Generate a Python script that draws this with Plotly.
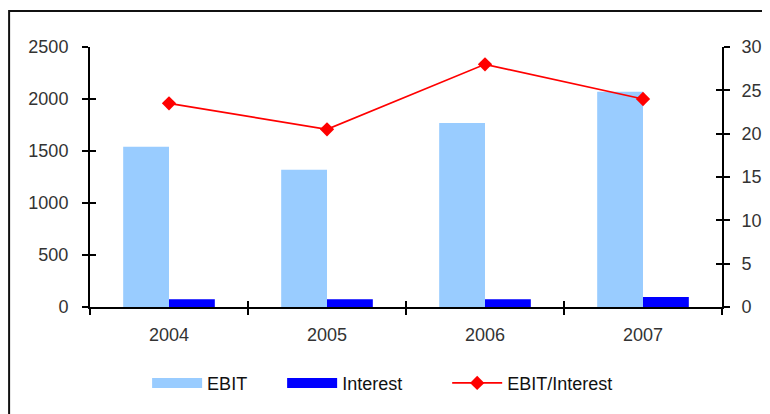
import plotly.graph_objects as go

years = ["2004", "2005", "2006", "2007"]
ebit = [1540, 1320, 1770, 2070]
interest = [75, 75, 75, 95]
ratio = [23.5, 20.5, 28.0, 24.0]

FONT = "Liberation Sans, Arial, sans-serif"
EBIT_C = "#99CCFF"
INT_C = "#0000FF"
RATIO_C = "#FF0000"
NB = "\u00a0"

fig = go.Figure()

fig.add_trace(go.Bar(x=years, y=ebit, name="EBIT", marker_color=EBIT_C,
                     marker_line_width=0, yaxis="y", showlegend=False))
fig.add_trace(go.Bar(x=years, y=interest, name="Interest", marker_color=INT_C,
                     marker_line_width=0, yaxis="y", showlegend=False))
fig.add_trace(go.Scatter(x=years, y=ratio, name="EBIT/Interest", yaxis="y2",
                         mode="lines+markers", showlegend=False,
                         line=dict(color=RATIO_C, width=1.7),
                         marker=dict(symbol="diamond", size=11, color=RATIO_C)))

# legend-only entries (wide swatches like the original)
fig.add_trace(go.Scatter(x=[None], y=[None], mode="lines", name="EBIT" + NB * 6,
                         line=dict(color=EBIT_C, width=13), hoverinfo="skip"))
fig.add_trace(go.Scatter(x=[None], y=[None], mode="lines", name="Interest" + NB * 8,
                         line=dict(color=INT_C, width=13), hoverinfo="skip"))
fig.add_trace(go.Scatter(x=[None], y=[None], mode="lines+markers", name="EBIT/Interest",
                         line=dict(color=RATIO_C, width=1.7),
                         marker=dict(symbol="diamond", size=11, color=RATIO_C),
                         hoverinfo="skip"))

# invisible helper traces so that overlay axes (inner tick halves) render
fig.add_trace(go.Scatter(x=[years[0]], y=[None], yaxis="y3", showlegend=False, hoverinfo="skip"))
fig.add_trace(go.Scatter(x=[years[0]], y=[None], yaxis="y4", showlegend=False, hoverinfo="skip"))
fig.add_trace(go.Scatter(x=[None], y=[None], xaxis="x2", yaxis="y", showlegend=False, hoverinfo="skip"))

axis_common = dict(showgrid=False, zeroline=False, showline=True, linecolor="#000",
                   linewidth=2, tickcolor="#000", tickwidth=2, automargin=False)

fig.update_layout(
    width=762, height=406,
    margin=dict(l=82, r=48, t=39, b=107),
    paper_bgcolor="white", plot_bgcolor="white",
    font=dict(family=FONT, size=18, color="#333"),
    barmode="group", bargap=0.42, bargroupgap=0,
    showlegend=True,
    legend=dict(orientation="h", x=0.463, xanchor="center", y=-0.293, yanchor="middle",
                font=dict(family=FONT, size=18, color="#111"), itemwidth=50,
                traceorder="normal", bgcolor="rgba(0,0,0,0)"),
    xaxis=dict(**axis_common, type="category", tickson="boundaries", ticks="outside",
               ticklen=6, ticklabelstandoff=10, range=[-0.5, 3.5]),
    xaxis2=dict(overlaying="x", anchor="y", range=[-0.5, 3.5], tickvals=[0.5, 1.5, 2.5],
                ticks="inside", ticklen=6, tickcolor="#000", tickwidth=2, automargin=False,
                showticklabels=False, showgrid=False, zeroline=False, showline=False),
    yaxis=dict(**axis_common, range=[0, 2500], dtick=500, ticks="outside", ticklen=6,
               ticklabelstandoff=10),
    yaxis2=dict(**axis_common, range=[0, 30], dtick=5, ticks="outside", ticklen=6,
                side="right", overlaying="y", anchor="x", ticklabelstandoff=8),
    yaxis3=dict(range=[0, 2500], dtick=500, ticks="inside", ticklen=6, tickcolor="#000",
                tickwidth=2, showticklabels=False, showgrid=False, zeroline=False,
                showline=False, overlaying="y", side="left", anchor="x", automargin=False),
    yaxis4=dict(range=[0, 30], dtick=5, ticks="inside", ticklen=6, tickcolor="#000",
                tickwidth=2, showticklabels=False, showgrid=False, zeroline=False,
                showline=False, overlaying="y", side="right", anchor="x", automargin=False),
    shapes=[dict(type="rect", xref="paper", yref="paper",
                 x0=-0.128, x1=1.3, y0=-0.6, y1=1.138,
                 line=dict(color="#111", width=2), layer="below")],
)

fig.write_html("out.html")
